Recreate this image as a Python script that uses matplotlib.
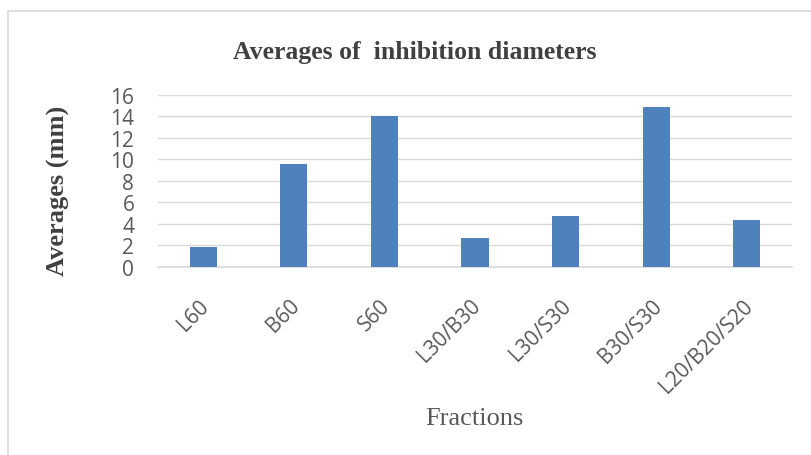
import matplotlib.pyplot as plt
from matplotlib.patches import Rectangle
from matplotlib.transforms import ScaledTranslation

fractions = ['L60', 'B60', 'S60', 'L30/B30', 'L30/S30', 'B30/S30', 'L20/B20/S20']
averages = [1.9, 9.6, 14.0, 2.7, 4.7, 14.9, 4.4]
y_ticks = [0, 2, 4, 6, 8, 10, 12, 14, 16]

fig = plt.figure(figsize=(8.11, 4.56), dpi=100)
ax = fig.add_axes([0.1948, 0.4123, 0.7818, 0.3772])

ax.bar(range(len(fractions)), averages, width=0.3, color='#4f81bd', zorder=3)

ax.set_xlim(-0.5, len(fractions) - 0.5)
ax.set_ylim(0, 16)
ax.set_yticks(y_ticks)
ax.set_xticks(range(len(fractions)))
ax.set_xticklabels(fractions, rotation=45, ha='right', rotation_mode='anchor')
ax.tick_params(axis='both', length=0, labelsize=15, labelcolor='#595959')
ax.tick_params(axis='x', pad=20)
ax.tick_params(axis='y', pad=17)
shift = ScaledTranslation(-5 / 100, 0, fig.dpi_scale_trans)
for lbl in ax.get_xticklabels():
    lbl.set_transform(lbl.get_transform() + shift)
for lbl in ax.get_xticklabels() + ax.get_yticklabels():
    lbl.set_family('Open Sans')

ax.grid(axis='y', color='#d9d9d9', linewidth=1, zorder=0)
for side in ['top', 'right', 'left']:
    ax.spines[side].set_visible(False)
ax.spines['bottom'].set_color('#d9d9d9')
ax.spines['bottom'].set_linewidth(1.2)

fig.text(0.511, 0.884, 'Averages of  inhibition diameters', ha='center', va='center',
         family='Liberation Serif', weight='bold', fontsize=18.5, color='#404040')
fig.text(0.0715, 0.581, 'Averages (mm)', ha='center', va='center', rotation=90,
         family='Liberation Serif', weight='bold', fontsize=19, color='#404040')
fig.text(0.585, 0.081, 'Fractions', ha='center', va='center',
         family='Liberation Serif', fontsize=19, color='#595959')

# chart area frame
fig.patches.append(Rectangle((8 / 811, -0.1), 1.2, 1 - 12 / 456 + 0.1, transform=fig.transFigure,
                             fill=False, edgecolor='#d9d9d9', linewidth=1.2))

fig.savefig('out.png', dpi=100)
